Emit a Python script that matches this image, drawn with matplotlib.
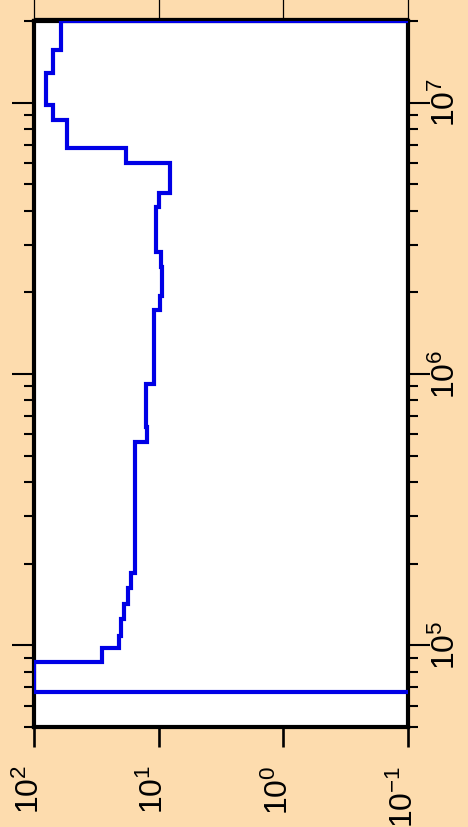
import numpy as np
import matplotlib
matplotlib.use('Agg')
import matplotlib.pyplot as plt
from matplotlib.ticker import FixedLocator, NullLocator, LogLocator
import matplotlib.transforms as mtransforms

plt.rcParams['font.family'] = ['Liberation Sans', 'DejaVu Sans']
plt.rcParams['mathtext.fontset'] = 'custom'
plt.rcParams['mathtext.rm'] = 'Liberation Sans'
plt.rcParams['mathtext.it'] = 'Liberation Sans:italic'
plt.rcParams['mathtext.bf'] = 'Liberation Sans:bold'

# ---- data (frequency band edges and the value in each band) ----
freq_edges = [5.0e4, 6.72e4, 8.66e4, 9.75e4, 1.079e5, 1.246e5, 1.415e5, 1.62e5,
              1.84e5, 5.62e5, 6.38e5, 9.19e5, 1.72e6, 1.94e6, 2.47e6, 2.81e6,
              4.11e6, 4.63e6, 5.97e6, 6.78e6, 8.66e6, 9.84e6, 1.29e7, 1.57e7,
              2.0e7, 3.0e7]
band_values = [0.05, 100, 28.6, 20.7, 20.1, 18.9, 17.7, 16.7, 15.6, 12.4, 12.7,
               11.0, 9.76, 9.35, 9.64, 10.5, 9.94, 8.11, 18.3, 54.7, 70.8, 80.1,
               69.8, 61.1, 0.05]

value_ticks = [100, 10, 1, 0.1]
value_tick_labels = [r'$\mathregular{10^{2}}$', r'$\mathregular{10^{1}}$',
                     r'$\mathregular{10^{0}}$', r'$\mathregular{10^{-1}}$']
freq_ticks = [1e5, 1e6, 1e7]
freq_tick_labels = [r'$\mathregular{10^{5}}$', r'$\mathregular{10^{6}}$',
                    r'$\mathregular{10^{7}}$']

BG = '#fddcae'
LINE = '#0000e6'

W, H = 468, 827
fig = plt.figure(figsize=(W / 100, H / 100), dpi=100, facecolor=BG)
ax = fig.add_axes([34 / W, 100 / H, 374 / W, 706 / H])
ax.set_facecolor('white')

# step line
xs = np.repeat(band_values, 2)
ys = np.column_stack([freq_edges[:-1], freq_edges[1:]]).ravel()
ax.plot(xs, ys, color=LINE, lw=3.0, zorder=3, solid_joinstyle='miter',
        solid_capstyle='butt')

ax.set_xscale('log')
ax.set_yscale('log')
ax.set_xlim(100, 0.1)
ax.set_ylim(5e4, 2e7)

for s in ax.spines.values():
    s.set_linewidth(3.0)
    s.set_color('black')

# x (value) axis
ax.xaxis.set_major_locator(FixedLocator(value_ticks))
ax.xaxis.set_minor_locator(NullLocator())
ax.set_xticks(value_ticks)
ax.set_xticklabels(value_tick_labels)
ax.tick_params(axis='x', which='major', direction='out', length=14.5, width=1.9,
               bottom=True, top=False, labelsize=23, labelrotation=90, pad=13)
for lab in ax.get_xticklabels():
    lab.set_ha('center')
    lab.set_va('top')
    lab.set_transform(lab.get_transform() +
                      mtransforms.ScaledTranslation(-4 / 100, 0, fig.dpi_scale_trans))

# y (frequency) axis
ax.yaxis.set_major_locator(FixedLocator(freq_ticks))
ax.yaxis.set_minor_locator(LogLocator(base=10, subs=np.arange(2, 10), numticks=20))
ax.set_yticks(freq_ticks)
ax.set_yticklabels(freq_tick_labels)
ax.yaxis.set_minor_formatter(plt.NullFormatter())
ax.tick_params(axis='y', which='major', direction='out', length=15.5, width=1.5,
               left=True, right=True, labelleft=False, labelright=True,
               labelsize=23, labelrotation=90, pad=0.5)
ax.tick_params(axis='y', which='minor', direction='out', length=7.5, width=1.5,
               left=True, right=True)
for lab in ax.get_yticklabels():
    lab.set_va('center')
    lab.set_ha('left')

# thin frame of the panel above (cut off by the figure edge)
blend = mtransforms.blended_transform_factory(ax.transData, fig.transFigure)
top_y = 1 - 18 / H
for v in value_ticks:
    ax.plot([v, v], [top_y, 1.0], transform=blend, color='black', lw=0.9,
            clip_on=False)
blend_ax = mtransforms.blended_transform_factory(ax.transAxes, fig.transFigure)
ax.plot([0, 1], [top_y, top_y], transform=blend_ax, color='black', lw=0.9,
        clip_on=False)

fig.savefig('out.png', dpi=100, facecolor=BG)
